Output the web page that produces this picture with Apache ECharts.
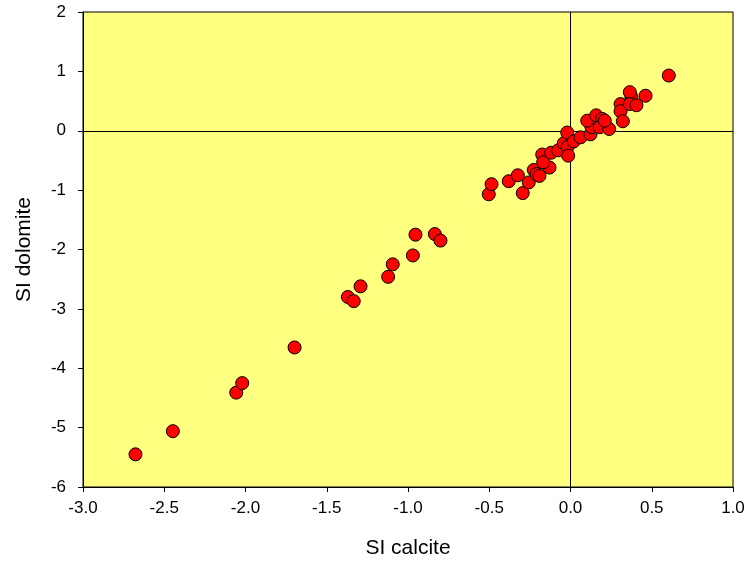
<!DOCTYPE html>
<html>
<head>
<meta charset="utf-8">
<script src="https://cdn.jsdelivr.net/npm/echarts@6/dist/echarts.min.js"></script>
<style>
  html, body { margin: 0; padding: 0; background: #ffffff; }
  #chart { width: 749px; height: 563px; }
</style>
</head>
<body>
<div id="chart"></div>
<script>
// Saturation indices of the samples: calcite (x) against dolomite (y)
const siCalcite = [
  -2.677, -2.447, -2.057, -2.020, -1.698, -1.370, -1.334, -1.292, -1.122, -1.094,
  -0.970, -0.954, -0.835, -0.800, -0.503, -0.486, -0.380, -0.324, -0.294, -0.257,
  -0.226, -0.209, -0.191, -0.129, -0.174, -0.168, -0.119, -0.076, -0.041, -0.017,
  -0.014, -0.020, 0.020, 0.062, 0.123, 0.129, 0.103, 0.158, 0.195, 0.180,
  0.238, 0.211, 0.308, 0.308, 0.322, 0.375, 0.365, 0.365, 0.406, 0.462, 0.605
];
const siDolomite = [
  -5.45, -5.06, -4.41, -4.25, -3.65, -2.80, -2.87, -2.62, -2.46, -2.25,
  -2.10, -1.75, -1.74, -1.85, -1.07, -0.90, -0.85, -0.75, -1.05, -0.87,
  -0.66, -0.73, -0.76, -0.62, -0.40, -0.53, -0.37, -0.33, -0.21, -0.27,
  -0.42, -0.03, -0.18, -0.11, -0.06, 0.06, 0.17, 0.26, 0.20, 0.06,
  0.03, 0.17, 0.45, 0.33, 0.16, 0.57, 0.65, 0.45, 0.43, 0.59, 0.93
];

const xTitle = 'SI calcite';
const yTitle = 'SI dolomite';

const points = siCalcite.map((x, i) => [x, siDolomite[i]]);

const fontFamily = '"Liberation Sans", Arial, sans-serif';
const chart = echarts.init(document.getElementById('chart'), null, { renderer: 'canvas' });

chart.setOption({
  animation: false,
  backgroundColor: '#ffffff',
  grid: {
    left: 83, right: 16, top: 12, bottom: 76,
    outerBoundsMode: 'none',
    containLabel: false,
    show: true,
    backgroundColor: '#ffff80',
    borderColor: '#000000',
    borderWidth: 1
  },
  xAxis: {
    type: 'value',
    min: -3, max: 1, interval: 0.5,
    name: xTitle,
    nameLocation: 'middle',
    nameGap: 51,
    nameTextStyle: { color: '#000', fontSize: 21, fontFamily },
    axisLine: { show: true, onZero: false, lineStyle: { color: '#000', width: 1 } },
    axisTick: { show: true, inside: false, length: 5, lineStyle: { color: '#000' } },
    axisLabel: { color: '#000', fontSize: 17, fontFamily, margin: 13,
      formatter: v => v.toFixed(1) },
    splitLine: { show: false }
  },
  yAxis: {
    type: 'value',
    min: -6, max: 2, interval: 1,
    name: yTitle,
    nameLocation: 'middle',
    nameGap: 48,
    nameRotate: 90,
    nameTextStyle: { color: '#000', fontSize: 21, fontFamily },
    axisLine: { show: true, onZero: false, lineStyle: { color: '#000', width: 1 } },
    axisTick: { show: true, inside: false, length: 5, lineStyle: { color: '#000' } },
    axisLabel: { color: '#000', fontSize: 17, fontFamily, margin: 17 },
    splitLine: { show: false }
  },
  series: [{
    type: 'scatter',
    data: points,
    symbol: 'circle',
    symbolSize: 13,
    itemStyle: { color: '#ff0000', borderColor: '#000000', borderWidth: 1, opacity: 1 },
    markLine: {
      silent: true,
      symbol: ['none', 'none'],
      label: { show: false },
      lineStyle: { color: '#000000', width: 1, type: 'solid' },
      z: 1,
      data: [{ xAxis: 0 }, { yAxis: 0 }]
    }
  }]
});
</script>
</body>
</html>
